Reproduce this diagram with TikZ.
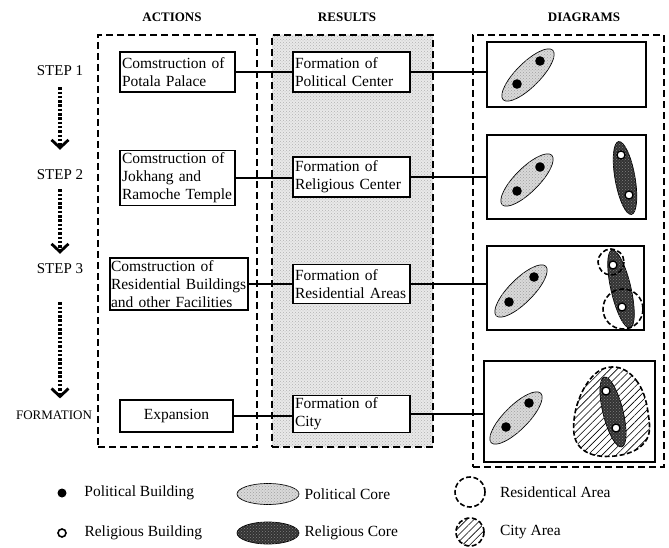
\documentclass[tikz,border=0pt]{standalone}
\usepackage{fontspec}
\setmainfont{Liberation Serif}
\usepackage{tikz}
\usetikzlibrary{shapes.geometric,arrows.meta,positioning,patterns,patterns.meta}
\hyphenpenalty=10000
\tikzstyle{column} = [rectangle, draw, dash pattern=on 7pt off 4pt, line width=1.3pt,
    inner sep=0pt]
\tikzstyle{stipple} = [column, preaction={fill=gray!17},
    preaction={pattern=crosshatch dots, pattern color=gray!60}]
\tikzstyle{header} = [font=\fontsize{13}{15}\selectfont\bfseries]
\tikzstyle{steplabel} = [font=\fontsize{15}{18}\selectfont, inner sep=2pt]
\tikzstyle{actbox} = [rectangle, draw, line width=1.2pt, fill=white, inner sep=2pt,
    align=left, font=\fontsize{15.5}{18}\selectfont]
\tikzstyle{diabox} = [rectangle, draw, line width=1.2pt, fill=white, inner sep=0pt]
\tikzstyle{stepflow} = [draw, line width=3.5pt, dash pattern=on 2.5pt off 1.8pt,
    -{Straight Barb[length=8pt,width=17pt,line width=2.8pt]}]
\tikzstyle{link} = [draw, line width=1.1pt]
\tikzstyle{polcore} = [draw, line width=0.7pt, fill=gray!30,
    postaction={pattern=crosshatch dots, pattern color=gray!75}]
\tikzstyle{relcore} = [draw, line width=0.7pt, fill=black!80,
    postaction={pattern=crosshatch dots, pattern color=black!50}]
\tikzstyle{relbldg} = [draw, fill=white, line width=1.3pt]
\tikzstyle{resarea} = [draw, dash pattern=on 5pt off 2.5pt, line width=1.6pt]
\tikzstyle{cityarea} = [resarea, pattern={Lines[angle=45,distance=5pt,line width=0.6pt]}]
\tikzstyle{legendtext} = [font=\fontsize{15.5}{18}\selectfont, inner sep=2pt]

\begin{document}
\begin{tikzpicture}[x=1pt, y=-1pt, auto]
  \useasboundingbox (0,0) rectangle (669,548);
  % Columns
  \node [header] (hact) at (172,17) {ACTIONS};
  \node [header] (hres) at (347,17) {RESULTS};
  \node [header] (hdia) at (584,17) {DIAGRAMS};
  \node [column, minimum width=159pt, minimum height=412pt] (actcol) at (177.5,241) {};
  \node [stipple, minimum width=161pt, minimum height=412pt] (rescol) at (352.5,241) {};
  \node [column, minimum width=191pt, minimum height=432pt] (diacol) at (568.5,251) {};
  % Steps
  \node [steplabel] (s1) at (60,71) {STEP 1};
  \node [steplabel] (s2) at (60,175) {STEP 2};
  \node [steplabel] (s3) at (60,269) {STEP 3};
  \node [steplabel, font=\fontsize{13}{15}\selectfont] (s4) at (54,415) {FORMATION};
  \path[stepflow, shorten <=9pt, shorten >=18pt] (s1) -- (s2);
  \path[stepflow, shorten <=7pt, shorten >=8pt] (s2) -- (s3);
  \path[stepflow, shorten <=26pt, shorten >=10pt] (s3.south) -- (s3.south |- s4.north);
  % Place nodes
  \node [actbox, text width=111pt, minimum height=40pt] (a1) at (177.5,72)
    {Comstruction of\\Potala Palace};
  \node [actbox, text width=111pt, minimum height=54pt] (a2) at (177.5,178)
    {Comstruction of\\Jokhang and\\Ramoche Temple};
  \node [actbox, text width=136pt, inner sep=1pt, minimum height=52pt] (a3) at (179,284)
    {Comstruction of\\Residential Buildings\\and other Facilities};
  \node [actbox, text width=109pt, minimum height=32pt, align=center] (a4) at (176.5,416)
    {Expansion};
  \node [actbox, text width=113pt, minimum height=40pt] (r1) at (351.5,72)
    {Formation of\\Political Center};
  \node [actbox, text width=113pt, minimum height=40pt] (r2) at (351.5,177)
    {Formation of\\Religious Center};
  \node [actbox, text width=113pt, minimum height=39pt] (r3) at (351.5,284)
    {Formation of\\Residential Areas};
  \node [actbox, text width=113pt, minimum height=37pt] (r4) at (351.5,414)
    {Formation of\\City};
  \node [diabox, minimum width=159pt, minimum height=65pt] (d1) at (566.5,74.5) {};
  \node [diabox, minimum width=159pt, minimum height=84pt] (d2) at (566.5,177) {};
  \node [diabox, minimum width=157pt, minimum height=84pt] (d3) at (565.5,288) {};
  \node [diabox, minimum width=171pt, minimum height=101pt] (d4) at (569.5,411.5) {};
  % Draw edges
  \path[link] (a1.east) -- (a1.east -| r1.west);
  \path[link] (a2.east) -- (a2.east -| r2.west);
  \path[link] (a3.east) -- (a3.east -| r3.west);
  \path[link] (a4.east) -- (a4.east -| r4.west);
  \path[link] (r1.east) -- (r1.east -| d1.west);
  \path[link] (r2.east) -- (r2.east -| d2.west);
  \path[link] (r3.east) -- (r3.east -| d3.west);
  \path[link] (r4.east) -- (r4.east -| d4.west);
  % Diagram 1
  \draw[polcore, rotate around={45:(528,75)}] (528,75) ellipse (35 and 12);
  \fill (540,61) circle (4.8); \fill (517,84) circle (4.8);
  % Diagram 2
  \draw[polcore, rotate around={45:(527,180)}] (527,180) ellipse (35 and 12);
  \fill (540,167) circle (4.8); \fill (517,191) circle (4.8);
  \draw[relcore, rotate around={100:(625,178)}] (625,178) ellipse (37 and 10);
  \draw[relbldg] (621,155) circle (4); \draw[relbldg] (629,195) circle (4);
  % Diagram 3
  \draw[polcore, rotate around={45:(521,291)}] (521,291) ellipse (35 and 12);
  \fill (534,277) circle (4.8); \fill (509,302) circle (4.8);
  \draw[relcore, rotate around={103:(621,289)}] (621,289) ellipse (40 and 10);
  \draw[resarea] (611,262) circle (13);
  \draw[resarea] (623,309) circle (20);
  \draw[relbldg] (613,265) circle (4); \draw[relbldg] (622,307) circle (4);
  % Diagram 4
  \draw[polcore, rotate around={45:(516,418)}] (516,418) ellipse (35 and 12);
  \fill (529,403) circle (4.8); \fill (506,427) circle (4.8);
  \draw[cityarea] plot[smooth cycle, tension=0.7] coordinates
    {(612,367) (636,380) (648,412) (645,442) (615,456) (582,449) (574,420) (588,382)};
  \draw[relcore, rotate around={104:(613,412)}] (613,412) ellipse (36 and 10);
  \draw[relbldg] (606,391) circle (4); \draw[relbldg] (616,428) circle (4);
  % Legend
  \node [circle, fill=black, inner sep=0pt, minimum size=9pt] (lpb) at (62,493) {};
  \node [legendtext, right=15.5pt of lpb] (tpb) {Political Building};
  \node [circle, draw, fill=white, line width=1.6pt, inner sep=0pt, minimum size=8pt]
    (lrb) at (62,533) {};
  \node [legendtext, right=15.5pt of lrb] (trb) {Religious Building};
  \node [ellipse, polcore, minimum width=62pt, minimum height=21pt] (lpc) at (268,494) {};
  \node [legendtext, right=3pt of lpc] (tpc) {Political Core};
  \node [ellipse, relcore, minimum width=62pt, minimum height=22pt] (lrc) at (268,533) {};
  \node [legendtext, right=3pt of lrc] (trc) {Religious Core};
  \node [circle, resarea, minimum size=30pt, inner sep=0pt] (lra) at (470,492) {};
  \node [legendtext, right=12pt of lra] (tra) {Residentical Area};
  \node [circle, cityarea, minimum size=28pt, inner sep=0pt] (lca) at (470,532) {};
  \node [legendtext, right=13pt of lca] (tca) {City Area};
\end{tikzpicture}
\end{document}
